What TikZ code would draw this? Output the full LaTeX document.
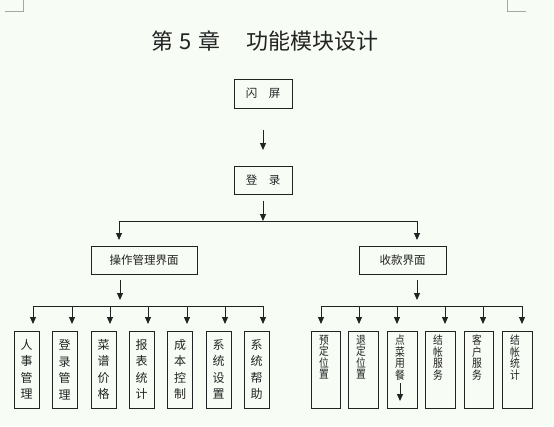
\documentclass[tikz,border=0pt]{standalone}
\usepackage{fontspec}
\newfontfamily\cjk{Noto Sans CJK SC}
\newfontfamily\cjkn[FakeStretch=0.85]{Noto Sans CJK SC}
\usetikzlibrary{arrows.meta}
\definecolor{bg}{RGB}{247,253,245}
\definecolor{inkc}{RGB}{35,35,35}
\begin{document}
\begin{tikzpicture}[x=1pt,y=-1pt,
  box/.style={draw=inkc, line width=1pt, inner sep=0pt, text=inkc, font=\cjk\fontsize{11.5}{12}\selectfont},
  vbox/.style={box, minimum width=25pt, minimum height=77pt, align=center, font=\cjk\fontsize{12}{16.5}\selectfont},
  rbox/.style={box, minimum width=29.5pt, minimum height=77pt},
  rtext/.style={anchor=north, inner sep=0pt, align=center, text=inkc, font=\cjkn\fontsize{11.5}{11.5}\selectfont},
  arr/.style={-{Triangle[width=6pt,length=7pt]}, line width=1pt, draw=inkc},
  wire/.style={line width=1pt, draw=inkc},
  corner/.style={draw=gray!70, line width=0.9pt}]
\fill[bg] (0,0) rectangle (554,426);
\useasboundingbox (0,0) rectangle (554,426);
% corner marks
\draw[corner] (5,11) -- (23,11) -- (23,0);
\draw[corner] (507,0) -- (507,11) -- (526,11);
% title
\node[text=inkc, font=\cjk\fontsize{22}{22}\selectfont] (title) at (265,41) {第\hspace{0.3em}5\hspace{0.3em}章\hspace{1.2em}功能模块设计};
% top chain
\node[box, minimum width=58pt, minimum height=29pt] (splash) at (263,93.5) {闪\hspace{1em}屏};
\coordinate (a1s) at (263,130);
\coordinate (a1e) at (263,150);
\draw[arr] (a1s) -- (a1e);
\node[box, minimum width=58pt, minimum height=28pt] (login) at (263,180) {登\hspace{1em}录};
\coordinate (j1) at (263,221);
\draw[arr] ([yshift=-6pt]login.south) -- (j1);
\coordinate (jl) at (119,221);
\coordinate (jr) at (417,221);
\coordinate (jle) at (119,240);
\coordinate (jre) at (417,240);
\draw[wire] (jl) -- (jr);
\draw[arr] (jl) -- (jle);
\draw[arr] (jr) -- (jre);
% second level
\node[box, minimum width=106pt, minimum height=28pt] (op) at (144,260) {操作管理界面};
\node[box, minimum width=87pt, minimum height=28pt] (pay) at (402.5,260) {收款界面};
\coordinate (opa) at (120,280);
\coordinate (ope) at (120,300);
\draw[arr] (opa) -- (ope);
\coordinate (paa) at (417,280);
\coordinate (pae) at (417,300);
\draw[arr] (paa) -- (pae);
% left bus
\coordinate (lb1) at (33,306);
\coordinate (lb7) at (263,306);
\draw[wire] (lb1) -- (lb7);
\foreach \x/\n in {33/1,72/2,110/3,148/4,187/5,225/6,263/7}{
  \coordinate (lt\n) at (\x,306);
  \coordinate (le\n) at (\x,324);
  \draw[arr] (lt\n) -- (le\n);
}
\node[vbox] (l1) at (26.5,369.5) {人\\事\\管\\理};
\node[vbox] (l2) at (64.5,369.5) {登\\录\\管\\理};
\node[vbox] (l3) at (103.5,369.5) {菜\\谱\\价\\格};
\node[vbox] (l4) at (141.5,369.5) {报\\表\\统\\计};
\node[vbox] (l5) at (180,369.5) {成\\本\\控\\制};
\node[vbox] (l6) at (218.5,369.5) {系\\统\\设\\置};
\node[vbox] (l7) at (256.5,369.5) {系\\统\\帮\\助};
% right bus
\coordinate (rb1) at (321,306);
\coordinate (rb6) at (522,306);
\draw[wire] (rb1) -- (rb6);
\foreach \x/\n in {321/1,359/2,397/3,445/4,483/5,522/6}{
  \coordinate (rt\n) at (\x,306);
  \coordinate (re\n) at (\x,324);
  \draw[arr] (rt\n) -- (re\n);
}
\node[rbox] (r1) at (326,369.5) {};
\node[rbox] (r2) at (363.5,369.5) {};
\node[rbox] (r3) at (402.5,369.5) {};
\node[rbox] (r4) at (440.5,369.5) {};
\node[rbox] (r5) at (479,369.5) {};
\node[rbox] (r6) at (517.5,369.5) {};
\node[rtext] (r1t) at (324,335) {预\\定\\位\\置};
\node[rtext] (r2t) at (361,335) {退\\定\\位\\置};
\node[rtext] (r3t) at (400,335) {点\\菜\\用\\餐};
\node[rtext] (r4t) at (438,335) {结\\帐\\服\\务};
\node[rtext] (r5t) at (477,335) {客\\户\\服\\务};
\node[rtext] (r6t) at (515,335) {结\\帐\\统\\计};
\coordinate (r3a) at (400,383);
\coordinate (r3e) at (400,401);
\draw[arr] (r3a) -- (r3e);
\end{tikzpicture}
\end{document}
